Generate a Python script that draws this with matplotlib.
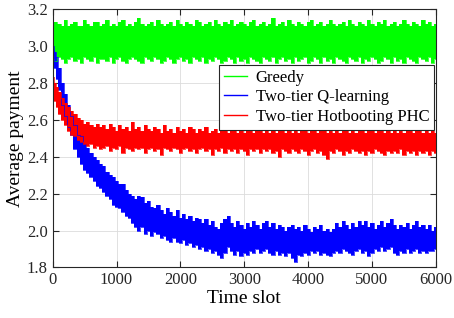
import matplotlib
matplotlib.use("Agg")
import matplotlib.pyplot as plt
from matplotlib.lines import Line2D

plt.rcParams['font.family'] = ['Liberation Serif', 'DejaVu Serif']

# time grid (slots)
t_early = [0, 30, 60, 100, 150, 200, 250, 300]
t_late = list(range(350, 6001, 50))
t_curve = t_early + t_late
t_greedy = list(range(0, 6001, 50))

# Greedy band (upper / lower edge of the noisy trace)
greedy_hi = [3.11, 3.13, 3.12, 3.11, 3.14, 3.11, 3.12, 3.13, 3.11, 3.11,
             3.14, 3.12, 3.11, 3.13, 3.13, 3.11, 3.12, 3.14, 3.11, 3.12,
             3.11, 3.13, 3.14, 3.11, 3.12, 3.11, 3.13, 3.15, 3.12, 3.11,
             3.12, 3.13, 3.11, 3.14, 3.12, 3.11, 3.12, 3.13, 3.11, 3.14,
             3.12, 3.11, 3.13, 3.12, 3.11, 3.14, 3.13, 3.11, 3.12, 3.13,
             3.11, 3.14, 3.12, 3.11, 3.13, 3.12, 3.14, 3.11, 3.12, 3.13,
             3.12, 3.11, 3.13, 3.14, 3.11, 3.12, 3.13, 3.11, 3.12, 3.15,
             3.11, 3.12, 3.13, 3.11, 3.14, 3.12, 3.11, 3.13, 3.12, 3.11,
             3.13, 3.14, 3.11, 3.12, 3.13, 3.11, 3.12, 3.14, 3.12, 3.11,
             3.12, 3.13, 3.11, 3.14, 3.12, 3.11, 3.13, 3.12, 3.11, 3.14,
             3.12, 3.11, 3.13, 3.12, 3.14, 3.11, 3.12, 3.13, 3.11, 3.12,
             3.14, 3.12, 3.11, 3.13, 3.12, 3.11, 3.14, 3.12, 3.13, 3.11,
             3.12]
greedy_lo = [2.93, 2.92, 2.94, 2.93, 2.91, 2.93, 2.94, 2.92, 2.93, 2.91,
             2.94, 2.93, 2.92, 2.94, 2.91, 2.93, 2.93, 2.92, 2.94, 2.91,
             2.93, 2.94, 2.92, 2.91, 2.93, 2.94, 2.93, 2.92, 2.91, 2.94,
             2.93, 2.92, 2.94, 2.93, 2.91, 2.92, 2.94, 2.93, 2.91, 2.93,
             2.94, 2.92, 2.93, 2.91, 2.94, 2.93, 2.92, 2.94, 2.91, 2.93,
             2.92, 2.94, 2.93, 2.91, 2.92, 2.94, 2.93, 2.91, 2.94, 2.92,
             2.93, 2.91, 2.94, 2.93, 2.92, 2.91, 2.94, 2.93, 2.92, 2.94,
             2.91, 2.93, 2.94, 2.92, 2.93, 2.91, 2.94, 2.92, 2.93, 2.94,
             2.91, 2.92, 2.94, 2.93, 2.91, 2.94, 2.92, 2.93, 2.91, 2.94,
             2.93, 2.92, 2.91, 2.94, 2.93, 2.92, 2.94, 2.91, 2.93, 2.92,
             2.94, 2.93, 2.91, 2.92, 2.94, 2.93, 2.91, 2.94, 2.92, 2.93,
             2.91, 2.94, 2.93, 2.92, 2.91, 2.94, 2.93, 2.92, 2.94, 2.91,
             2.93]

# Two-tier Q-learning band
qlearn_hi = [3.00, 2.97, 2.94, 2.88, 2.80, 2.74, 2.68, 2.62,
             2.57, 2.52, 2.51, 2.47, 2.45, 2.42, 2.40, 2.38, 2.36, 2.35,
             2.32, 2.30, 2.29, 2.27, 2.25, 2.25, 2.22, 2.20, 2.19, 2.17,
             2.19, 2.18, 2.15, 2.16, 2.13, 2.12, 2.14, 2.11, 2.09, 2.12,
             2.10, 2.08, 2.11, 2.07, 2.09, 2.06, 2.08, 2.05, 2.07, 2.06,
             2.04, 2.06, 2.03, 2.05, 2.02, 2.01, 2.04, 2.06, 2.08, 2.04,
             2.02, 2.05, 2.03, 2.01, 2.04, 2.02, 2.05, 2.03, 2.01, 2.04,
             2.05, 2.02, 2.04, 2.01, 2.03, 2.02, 2.00, 2.02, 2.03, 2.01,
             2.02, 2.00, 2.03, 2.01, 1.99, 2.02, 2.01, 2.03, 2.00, 2.01,
             1.99, 2.01, 2.04, 2.02, 2.05, 2.03, 2.01, 2.04, 2.02, 2.05,
             2.03, 2.05, 2.02, 2.04, 2.01, 2.03, 2.05, 2.02, 2.04, 2.06,
             2.03, 2.01, 2.03, 2.02, 2.04, 2.01, 2.03, 2.05, 2.02, 2.03,
             2.01, 2.03, 2.00, 2.02]
qlearn_lo = [2.98, 2.88, 2.82, 2.76, 2.68, 2.62, 2.56, 2.52,
             2.44, 2.40, 2.36, 2.33, 2.31, 2.29, 2.27, 2.24, 2.23, 2.21,
             2.19, 2.17, 2.14, 2.13, 2.12, 2.10, 2.08, 2.07, 2.04, 2.02,
             2.00, 2.02, 1.98, 2.00, 1.97, 1.99, 1.98, 1.96, 1.97, 1.95,
             1.94, 1.96, 1.94, 1.93, 1.95, 1.92, 1.93, 1.91, 1.92, 1.90,
             1.91, 1.89, 1.90, 1.88, 1.89, 1.87, 1.85, 1.88, 1.91, 1.89,
             1.87, 1.89, 1.86, 1.88, 1.87, 1.89, 1.88, 1.90, 1.88, 1.89,
             1.90, 1.88, 1.87, 1.89, 1.87, 1.88, 1.86, 1.88, 1.85, 1.83,
             1.87, 1.86, 1.88, 1.87, 1.89, 1.88, 1.89, 1.87, 1.88, 1.87,
             1.86, 1.88, 1.89, 1.88, 1.90, 1.89, 1.88, 1.87, 1.89, 1.90,
             1.88, 1.89, 1.86, 1.88, 1.90, 1.89, 1.91, 1.89, 1.90, 1.91,
             1.88, 1.87, 1.89, 1.88, 1.90, 1.88, 1.89, 1.90, 1.88, 1.89,
             1.88, 1.89, 1.89, 1.90]

# Two-tier Hotbooting PHC band
phc_hi = [2.83, 2.80, 2.78, 2.75, 2.72, 2.69, 2.67, 2.65,
          2.63, 2.61, 2.60, 2.58, 2.59, 2.57, 2.56, 2.58, 2.56, 2.57,
          2.55, 2.58, 2.56, 2.54, 2.57, 2.55, 2.56, 2.54, 2.59, 2.55,
          2.56, 2.54, 2.57, 2.55, 2.54, 2.56, 2.55, 2.53, 2.57, 2.54,
          2.55, 2.53, 2.56, 2.54, 2.55, 2.53, 2.56, 2.55, 2.53, 2.55,
          2.54, 2.56, 2.53, 2.54, 2.55, 2.53, 2.55, 2.54, 2.53, 2.55,
          2.54, 2.53, 2.55, 2.53, 2.54, 2.56, 2.53, 2.54, 2.55, 2.53,
          2.55, 2.53, 2.54, 2.53, 2.55, 2.54, 2.53, 2.55, 2.53, 2.54,
          2.53, 2.55, 2.54, 2.53, 2.54, 2.56, 2.53, 2.54, 2.55, 2.53,
          2.54, 2.53, 2.55, 2.53, 2.54, 2.55, 2.53, 2.54, 2.53, 2.55,
          2.54, 2.53, 2.55, 2.54, 2.53, 2.54, 2.55, 2.53, 2.54, 2.53,
          2.55, 2.53, 2.54, 2.53, 2.55, 2.54, 2.53, 2.54, 2.55, 2.53,
          2.54, 2.53, 2.54, 2.53]
phc_lo = [2.80, 2.70, 2.67, 2.63, 2.60, 2.57, 2.54, 2.52,
          2.51, 2.49, 2.48, 2.47, 2.46, 2.47, 2.45, 2.46, 2.44, 2.45,
          2.46, 2.43, 2.45, 2.44, 2.46, 2.42, 2.45, 2.44, 2.43, 2.45,
          2.44, 2.45, 2.42, 2.44, 2.45, 2.43, 2.44, 2.41, 2.45, 2.44,
          2.43, 2.45, 2.44, 2.42, 2.44, 2.45, 2.43, 2.44, 2.42, 2.44,
          2.45, 2.43, 2.44, 2.41, 2.44, 2.43, 2.45, 2.42, 2.44, 2.43,
          2.44, 2.42, 2.44, 2.43, 2.41, 2.44, 2.43, 2.44, 2.42, 2.44,
          2.43, 2.44, 2.42, 2.43, 2.40, 2.44, 2.43, 2.42, 2.44, 2.43,
          2.42, 2.44, 2.43, 2.41, 2.43, 2.44, 2.42, 2.43, 2.41, 2.39,
          2.43, 2.42, 2.44, 2.43, 2.41, 2.43, 2.42, 2.44, 2.43, 2.42,
          2.43, 2.41, 2.43, 2.42, 2.44, 2.43, 2.42, 2.41, 2.43, 2.42,
          2.43, 2.42, 2.44, 2.41, 2.43, 2.42, 2.43, 2.41, 2.43, 2.42,
          2.43, 2.41, 2.43, 2.42]

labels = ["Greedy", "Two-tier Q-learning", "Two-tier Hotbooting PHC"]
colors = ["#00ff00", "#0000ff", "#ff0000"]

fig = plt.figure(figsize=(4.54, 3.18), dpi=100)
ax = fig.add_axes([0.116, 0.159, 0.844, 0.812])

series = [(t_greedy, greedy_hi, greedy_lo),
          (t_curve, qlearn_hi, qlearn_lo),
          (t_curve, phc_hi, phc_lo)]
for (t, hi, lo), c in zip(series, colors):
    ax.fill_between(t, lo, hi, color=c, lw=0, step="mid")
    ax.plot(t, hi, color=c, lw=0.5, drawstyle="steps-mid")
    ax.plot(t, lo, color=c, lw=0.5, drawstyle="steps-mid")

ax.set_xlim(0, 6000)
ax.set_ylim(1.8, 3.2)
ax.set_xticks(range(0, 6001, 1000))
ax.set_yticks([1.8, 2.0, 2.2, 2.4, 2.6, 2.8, 3.0, 3.2])
ax.set_yticklabels(["1.8", "2.0", "2.2", "2.4", "2.6", "2.8", "3.0", "3.2"])
ax.grid(True, color="#dcdcdc", lw=0.6)
ax.set_axisbelow(True)
ax.tick_params(direction="in", top=True, right=True, length=4, width=0.8,
               labelsize=12, colors="#262626")
for s in ax.spines.values():
    s.set_color("#262626")
    s.set_linewidth(0.8)

ax.set_xlabel("Time slot", fontsize=14, labelpad=1)
ax.set_ylabel("Average payment", fontsize=14, labelpad=2)

handles = [Line2D([], [], color=c, lw=1) for c in colors]
leg = ax.legend(handles, labels, loc="upper right", bbox_to_anchor=(0.996, 0.784),
                fontsize=12, frameon=True, fancybox=False, framealpha=1,
                edgecolor="#262626", handlelength=1.4, handletextpad=0.5,
                labelspacing=0.2, borderpad=0.3, borderaxespad=0)
leg.get_frame().set_linewidth(0.8)

fig.savefig("out.png", dpi=100)
